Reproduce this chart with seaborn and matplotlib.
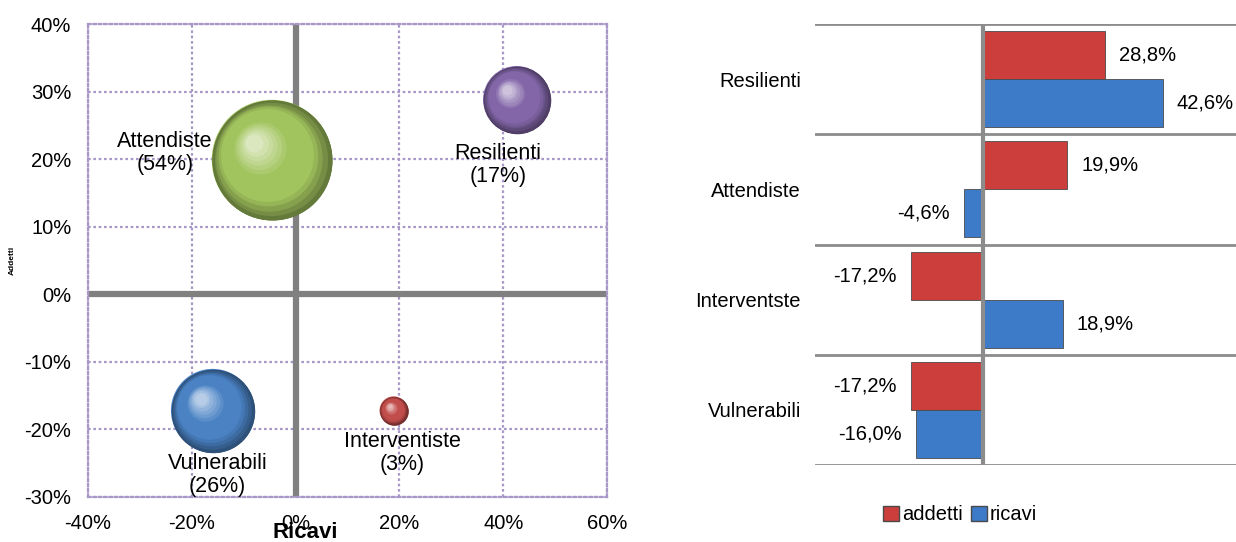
import numpy as np
import pandas as pd
import matplotlib
matplotlib.use("Agg")
import matplotlib.pyplot as plt
import matplotlib.transforms as mtransforms
from matplotlib.colors import to_rgb
from matplotlib.patches import Patch
import seaborn as sns

# ---------------- data ----------------
groups = ["Attendiste", "Resilienti", "Vulnerabili", "Interventiste"]
ricavi_bub = [-4.6, 42.6, -16.0, 18.9]
addetti_bub = [19.9, 28.8, -17.2, -17.2]
quota = [54, 17, 26, 3]
bub_colors = ["#A2C45E", "#8266A8", "#4A82C4", "#C24E4C"]

bar_cats = ["Resilienti", "Attendiste", "Interventste", "Vulnerabili"]
addetti = [28.8, 19.9, -17.2, -17.2]
ricavi = [42.6, -4.6, 18.9, -16.0]
series = ["addetti", "ricavi"]
bar_colors = ["#CC3E3C", "#3D7AC8"]

xticks_left = [-40, -20, 0, 20, 40, 60]
yticks_left = [-30, -20, -10, 0, 10, 20, 30, 40]

sns.set_theme(style="white")
plt.rcParams["font.family"] = ["Liberation Sans", "DejaVu Sans"]
for k in ["text.color", "axes.labelcolor", "xtick.color", "ytick.color"]:
    plt.rcParams[k] = "black"
FS = 14.5
FSA = 15.5

fig = plt.figure(figsize=(12.36, 5.42), dpi=100)
ax1 = fig.add_axes([88/1236, 1-497/542, (607-88)/1236, (497-24)/542])
ax2 = fig.add_axes([815/1236, 1-465/542, (1236-815)/1236, (465-24)/542])

# ---------------- bubble chart ----------------
dfb = pd.DataFrame({"grp": groups, "ricavi": ricavi_bub, "addetti": addetti_bub, "quota": quota})
smax = 7465.0
sns.scatterplot(data=dfb, x="ricavi", y="addetti", size="quota", sizes=(0, smax), size_norm=(0, 54),
                hue="grp", palette=dict(zip(groups, bub_colors)), legend=False, ax=ax1,
                edgecolor="none", linewidth=0, zorder=3, alpha=1)
# shading layers (3D look)
for i, row in dfb.iterrows():
    base = np.array(to_rgb(bub_colors[i]))
    s = smax * row["quota"] / 54
    r_pt = np.sqrt(s) / 2
    dark = base * 0.62
    light = np.clip(base + (1 - base) * 0.6, 0, 1)
    ax1.scatter([row["ricavi"]], [row["addetti"]], s=s, color=dark, zorder=3.1, linewidths=0)
    n = 16
    for k in range(n):
        f = k / (n - 1)
        scale = 1 - 0.85 * f
        off = 0.32 * r_pt * f
        tr = mtransforms.offset_copy(ax1.transData, fig=fig, x=-off * 0.9, y=off * 0.9, units="points")
        if f < 0.25:
            c = dark + (base - dark) * (f / 0.25)
        elif f < 0.6:
            c = base
        else:
            t = (f - 0.6) / 0.4
            c = base + (light - base) * t
        ax1.scatter([row["ricavi"]], [row["addetti"]], s=s * scale**2, color=c, zorder=3.2 + k * 0.01,
                    linewidths=0, transform=tr)

ax1.set_xlim(-40, 60)
ax1.set_ylim(-30, 40)
ax1.set_xticks(xticks_left)
ax1.set_yticks(yticks_left)
ax1.set_xticklabels([f"{v}%" for v in xticks_left], fontsize=FS)
ax1.set_yticklabels([f"{v}%" for v in yticks_left], fontsize=FS)
ax1.tick_params(axis="both", length=0, pad=12, colors="black")
ax1.grid(True, color="#A898C8", linestyle=(0, (1.2, 1.2)), linewidth=1.6, zorder=0)
for sp in ax1.spines.values():
    sp.set_color("#A898C8")
    sp.set_linestyle((0, (1.2, 1.2)))
    sp.set_linewidth(1.6)
ax1.axvline(0, color="#808080", linewidth=4.5, zorder=1)
ax1.axhline(0, color="#808080", linewidth=4.5, zorder=1)
ax1.set_axisbelow(True)
ax1.set_xlabel("Ricavi", fontsize=16, fontweight="bold")
ax1.xaxis.set_label_coords((305 - 88) / 519, -(522 - 497) / 473)
ax1.set_ylabel("Addetti", fontsize=6, fontweight="bold", labelpad=6)

label_pos = {
    "Attendiste": (-25.2, 20.9),
    "Resilienti": (39.0, 19.2),
    "Vulnerabili": (-15.0, -26.7),
    "Interventiste": (20.5, -23.5),
}
for g, q in zip(groups, quota):
    lx, ly = label_pos[g]
    ax1.text(lx, ly, f"{g}\n({q}%)", ha="center", va="center", fontsize=FSA, linespacing=1.12, zorder=5)

# ---------------- bar chart ----------------
dfr = pd.DataFrame({
    "cat": bar_cats * 2,
    "val": addetti + ricavi,
    "serie": [series[0]] * 4 + [series[1]] * 4,
})
sns.barplot(data=dfr, y="cat", x="val", hue="serie", orient="h", palette=bar_colors,
            width=0.87, ax=ax2, legend=False, edgecolor="#4a4a4a", linewidth=0.6, zorder=3,
            saturation=1)
for cont in ax2.containers:
    ax2.bar_label(cont, labels=[f"{v:.1f}%".replace(".", ",") for v in cont.datavalues],
                  padding=10, fontsize=FS)
ax2.set_xlim(-40, 60)
ax2.set_ylim(3.5, -0.5)
for yb in np.arange(-0.5, 4.0, 1.0):
    ax2.axhline(yb, color="#8c8c8c", linewidth=2, zorder=1)
ax2.axvline(0, color="#8c8c8c", linewidth=3, zorder=4)
for sp in ax2.spines.values():
    sp.set_visible(False)
ax2.set_xticks([])
ax2.set_xlabel("")
ax2.set_ylabel("")
ax2.tick_params(axis="y", length=0, pad=10, labelsize=FS)

handles = [Patch(facecolor=bar_colors[0], edgecolor="#4a4a4a"),
           Patch(facecolor=bar_colors[1], edgecolor="#4a4a4a")]
fig.legend(handles, series, loc="center", bbox_to_anchor=(960/1236, 1-515/542), ncol=2,
           frameon=False, fontsize=FS, handlelength=0.8, handleheight=0.8,
           handletextpad=0.15, columnspacing=0.4)

fig.savefig("out.png", dpi=100)
